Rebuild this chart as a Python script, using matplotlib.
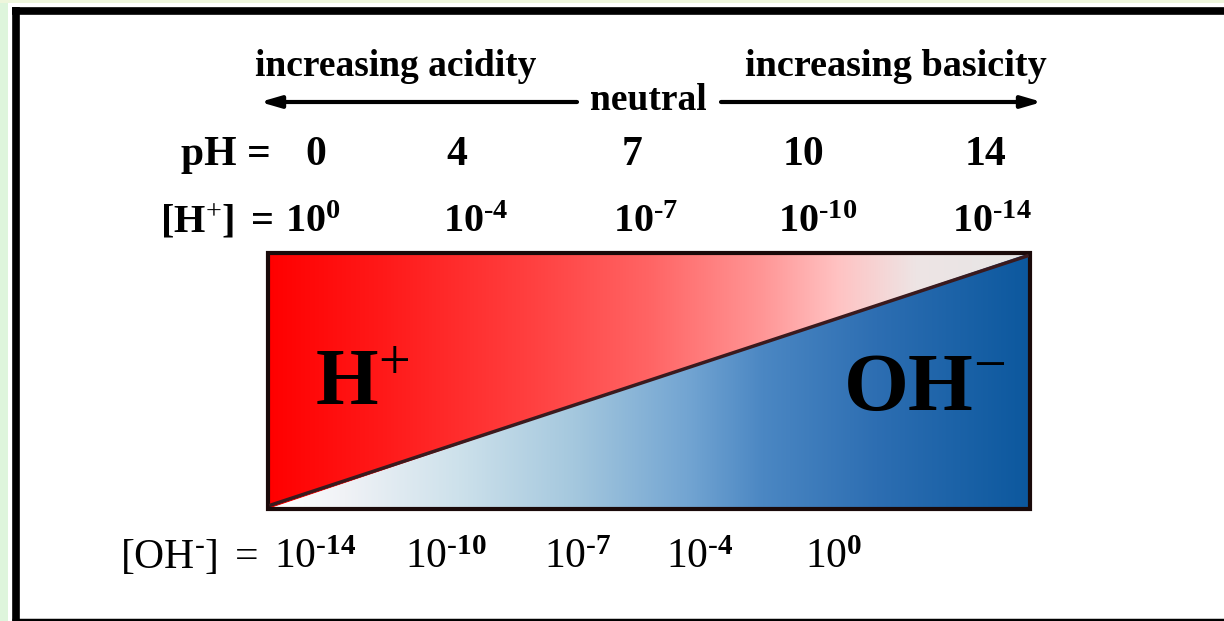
import numpy as np
import matplotlib.pyplot as plt
from matplotlib.patches import Polygon, Rectangle

plt.rcParams['font.family'] = ['Liberation Serif', 'DejaVu Serif']
plt.rcParams['mathtext.fontset'] = 'custom'
plt.rcParams['mathtext.rm'] = 'Liberation Serif'
plt.rcParams['mathtext.bf'] = 'Liberation Serif:bold'
plt.rcParams['mathtext.it'] = 'Liberation Serif:italic'

# pH scale values shown on the chart
ph_values = [0, 4, 7, 10, 14]
h_exponents = [-p for p in ph_values]
oh_exponents = [p - 14 for p in ph_values]

# label positions (pixels)
ph_x = [316, 457, 632, 804, 986]
h_x = [313, 476, 646, 818, 992]
oh_x = [315, 446, 578, 700, 834]

# gradient stops across the box (fraction of width, rgb)
red_stops = [0.0, 0.15, 0.35, 0.5, 0.65, 0.75, 0.85, 1.0]
red_cols = [(255, 0, 0), (255, 25, 25), (255, 65, 65), (255, 100, 100),
            (255, 150, 150), (255, 195, 195), (238, 228, 228), (230, 230, 230)]
blue_stops = [0.0, 0.1, 0.25, 0.4, 0.55, 0.65, 0.8, 1.0]
blue_cols = [(255, 255, 255), (240, 242, 246), (205, 225, 235), (165, 200, 222),
             (115, 165, 210), (75, 135, 195), (45, 110, 178), (12, 88, 158)]

W, H = 1224, 621
fig = plt.figure(figsize=(W / 100, H / 100), dpi=100)
ax = fig.add_axes([0, 0, 1, 1])
ax.set_xlim(0, W)
ax.set_ylim(H, 0)
ax.axis('off')

# outer frame
ax.add_patch(Rectangle((0, 0), 8, H, color='#def5dc', lw=0))
ax.add_patch(Rectangle((0, 0), W, 3, color='#eef6dc', lw=0))
ax.plot([15.5, 15.5], [7, H], color='black', lw=5.5, solid_capstyle='butt')
ax.plot([12, W], [10.5, 10.5], color='black', lw=5.5, solid_capstyle='butt')
ax.plot([12, W], [619.5, 619.5], color='black', lw=2.5, solid_capstyle='butt')

# gradient box
x0, x1, y0, y1 = 268, 1030, 253, 509


def grad(stops, cols):
    f = np.linspace(0, 1, 400)
    c = np.array(cols) / 255.0
    row = np.stack([np.interp(f, stops, c[:, i]) for i in range(3)], axis=-1)
    return np.repeat(row[None, :, :], 2, axis=0)


red_poly = Polygon([(x0, y1), (x0, y0), (x1, y0)], closed=True, transform=ax.transData)
blue_poly = Polygon([(x0, y1), (x1, y0), (x1, y1)], closed=True, transform=ax.transData)
im1 = ax.imshow(grad(red_stops, red_cols), extent=[x0, x1, y1, y0], aspect='auto',
                interpolation='bilinear')
im1.set_clip_path(red_poly)
im2 = ax.imshow(grad(blue_stops, blue_cols), extent=[x0, x1, y1, y0], aspect='auto',
                interpolation='bilinear')
im2.set_clip_path(blue_poly)
ax.plot([x0 + 3, x1 - 3], [y1 - 4, y0 + 3], color='#3a1a1e', lw=2.5)
ax.add_patch(Rectangle((x0, y0), x1 - x0, y1 - y0, fill=False, ec='#1a0a0a', lw=3))
ax.set_xlim(0, W)
ax.set_ylim(H, 0)

# big ion labels
ax.text(315, 405, r'$\mathbf{H}^{+}$', fontsize=58, ha='left', va='baseline')
ax.text(843, 410, r'$\mathbf{OH}^{-}$', fontsize=60, ha='left', va='baseline')

# top arrows
ax.text(396, 66, 'increasing acidity', fontsize=27, fontweight='bold', ha='center', va='center')
ax.text(896, 66, 'increasing basicity', fontsize=27.5, fontweight='bold', ha='center', va='center')
ax.text(648, 101, 'neutral', fontsize=27, fontweight='bold', ha='center', va='center')
ax.annotate('', xy=(260, 102), xytext=(577, 102),
            arrowprops=dict(arrowstyle='-|>,head_length=1.2,head_width=0.35', lw=3, color='black',
                            shrinkA=0, shrinkB=0))
ax.annotate('', xy=(1042, 102), xytext=(721, 102),
            arrowprops=dict(arrowstyle='-|>,head_length=1.2,head_width=0.35', lw=3, color='black',
                            shrinkA=0, shrinkB=0))

# pH row
ax.text(271, 165, 'pH =', fontsize=30, fontweight='bold', ha='right', va='baseline')
for p, x in zip(ph_values, ph_x):
    ax.text(x, 165, str(p), fontsize=30, fontweight='bold', ha='center', va='baseline')

# [H+] row
ax.text(274, 232, r'$\mathbf{[H}^{+}\mathbf{]\ =}$', fontsize=29, ha='right', va='baseline')
for e, x in zip(h_exponents, h_x):
    lab = r'$\mathbf{10^{%d}}$' % e if e == 0 else r'$\mathbf{10^{\text{-}%d}}$' % (-e)
    ax.text(x, 232, lab, fontsize=29, ha='center', va='baseline')

# [OH-] row
ax.text(258, 568, r'$\mathrm{[OH}^{\text{-}}\mathrm{]\ =}$', fontsize=30, ha='right', va='baseline')
for e, x in zip(oh_exponents, oh_x):
    if e == 0:
        lab = r'$\mathrm{10}^{\mathbf{0}}$'
    else:
        lab = r'$\mathrm{10}^{\mathbf{\text{-}%d}}$' % (-e)
    ax.text(x, 568, lab, fontsize=30, ha='center', va='baseline')

fig.savefig('out.png', dpi=100)
